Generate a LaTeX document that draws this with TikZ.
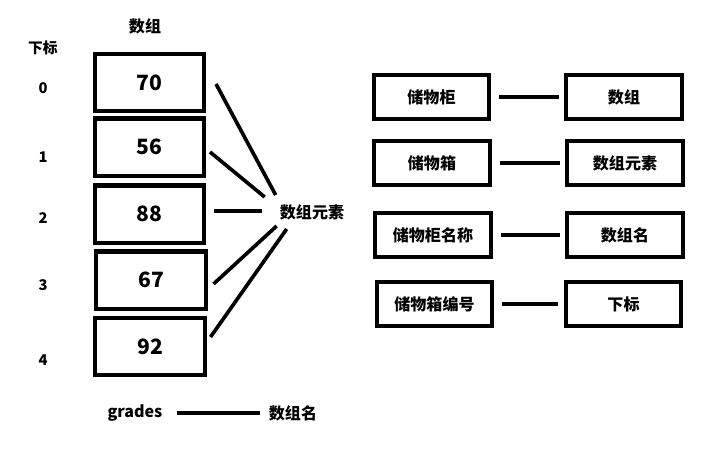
\documentclass[tikz,border=0pt]{standalone}
\usepackage{fontspec}
\setmainfont{Noto Sans CJK SC}
\usetikzlibrary{calc}

\begin{document}
\begin{tikzpicture}[x=0.025cm,y=-0.025cm,
    every node/.style={inner sep=0pt,font=\bfseries},
    cell/.style={draw,line width=2.85pt,minimum width=2.725cm,minimum height=1.425cm,font=\bfseries\fontsize{15}{15}\selectfont},
    box/.style={draw,line width=2.85pt,minimum width=2.875cm,minimum height=1.1cm,font=\bfseries\fontsize{11.4}{12}\selectfont},
    lbl/.style={font=\bfseries\fontsize{11.4}{12}\selectfont},
    idx/.style={font=\bfseries\fontsize{10.5}{11}\selectfont},
    link/.style={line width=2.6pt}]
  \useasboundingbox (0,0) rectangle (726,449);
  % the array
  \node[lbl] (title) at (145,26) {数组};
  \node[idx] (sub) at (43,48) {下标};
  \node[cell] (c0) at (149.5,82.5) {70};
  \node[cell] (c1) at (149.5,147) {56};
  \node[cell] (c2) at (149.5,214) {88};
  \node[cell] (c3) at (151,280) {67};
  \node[cell] (c4) at (150,346.5) {92};
  \node[idx] (i0) at (43,88) {0};
  \node[idx] (i1) at (43,157) {1};
  \node[idx] (i2) at (43,218) {2};
  \node[idx] (i3) at (43,285) {3};
  \node[idx] (i4) at (43,360) {4};
  \node[lbl] (elem) at (312,212) {数组元素};
  \draw[link] ($(c0.east)+(10,1.5)$) -- ($(elem.west)+(-4,-17)$);
  \draw[link] ($(c1.east)+(4,5)$) -- ($(elem.west)+(-15,-15)$);
  \draw[link] ($(c2.east)+(8,-3)$) -- ($(elem.west)+(-18,-1)$);
  \draw[link] ($(c3.east)+(6,4)$) -- ($(elem.west)+(-3,14)$);
  \draw[link] ($(c4.east)+(4,-9.5)$) -- ($(elem.west)+(7,17)$);
  \node[lbl] (grades) at (135,413) {grades};
  \node[lbl] (name) at (293,413) {数组名};
  \draw[link,shorten <=10pt,shorten >=6pt] (grades) -- (name);
  % the cabinet
  \node[box] (l1) at (431.5,97) {储物柜};
  \node[box] (r1) at (624,97) {数组};
  \node[box] (l2) at (432,163) {储物箱};
  \node[box] (r2) at (625,163) {数组元素};
  \node[box] (l3) at (433,235) {储物柜名称};
  \node[box] (r3) at (625,235) {数组名};
  \node[box] (l4) at (434.5,304) {储物箱编号};
  \node[box] (r4) at (623.5,304) {下标};
  \foreach \i in {1,...,4}
    \draw[link,shorten <=6pt,shorten >=4pt] (l\i) -- (r\i);
\end{tikzpicture}
\end{document}
